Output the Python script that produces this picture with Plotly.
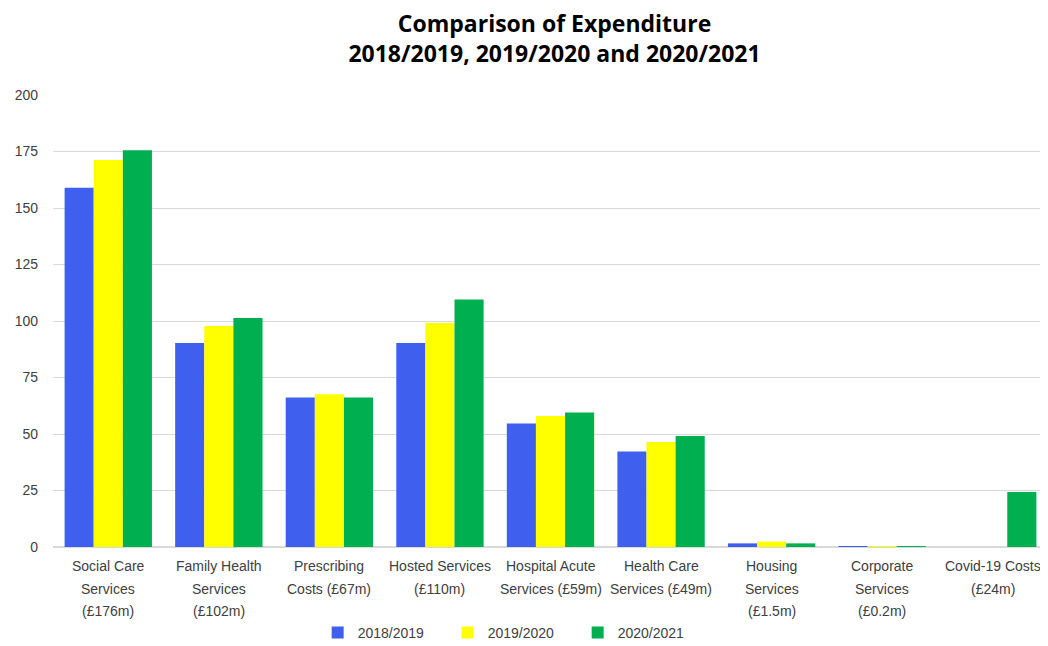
import plotly.graph_objects as go

categories = [
    "Social Care Services (£176m)",
    "Family Health Services (£102m)",
    "Prescribing Costs (£67m)",
    "Hosted Services (£110m)",
    "Hospital Acute Services (£59m)",
    "Health Care Services (£49m)",
    "Housing Services (£1.5m)",
    "Corporate Services (£0.2m)",
    "Covid-19 Costs (£24m)",
]
category_lines = [
    ["Social Care", "Services", "(£176m)"],
    ["Family Health", "Services", "(£102m)"],
    ["Prescribing", "Costs (£67m)"],
    ["Hosted Services", "(£110m)"],
    ["Hospital Acute", "Services (£59m)"],
    ["Health Care", "Services (£49m)"],
    ["Housing", "Services", "(£1.5m)"],
    ["Corporate", "Services", "(£0.2m)"],
    ["Covid-19 Costs", "(£24m)"],
]
series_names = ["2018/2019", "2019/2020", "2020/2021"]
values_2018 = [159, 90.3, 66.2, 90.3, 54.6, 42.3, 1.6, 0.2, 0]
values_2019 = [171.2, 97.8, 67.6, 99.1, 58.0, 46.5, 2.4, 0.2, 0]
values_2020 = [175.5, 101.3, 66.2, 109.5, 59.5, 49.1, 1.6, 0.2, 24.3]
colors = ["#3F60EF", "#FFFF00", "#00AF50"]
y_ticks = [0, 25, 50, 75, 100, 125, 150, 175, 200]

TEXT = "#404040"
FONT = "Liberation Sans, Arial, sans-serif"

fig = go.Figure()
for name, vals, col in zip(series_names, [values_2018, values_2019, values_2020], colors):
    fig.add_trace(go.Bar(name=name, x=categories, y=vals,
                         marker=dict(color=col, line=dict(width=0))))

annotations = []
for cat, lines in zip(categories, category_lines):
    for i, line in enumerate(lines):
        annotations.append(dict(
            x=cat, xref="x", y=0, yref="paper", yanchor="middle", xanchor="center",
            yshift=-(19 + 22.5 * i), text=line, showarrow=False,
            font=dict(family=FONT, size=14, color=TEXT),
        ))

fig.update_layout(
    width=1040, height=638,
    paper_bgcolor="white", plot_bgcolor="white",
    barmode="group", bargap=0.21, bargroupgap=0,
    margin=dict(l=45, r=0, t=87, b=99, autoexpand=False),
    title=dict(
        text="<b>Comparison of Expenditure<br>2018/2019, 2019/2020 and 2020/2021</b>",
        x=0.5255, xanchor="center", y=0.962, yanchor="top",
        font=dict(family="Open Sans, Liberation Sans, sans-serif", size=23, color="black"),
    ),
    font=dict(family=FONT, size=14, color=TEXT),
    legend=dict(orientation="h", x=0.266, xanchor="left", y=-0.19, yanchor="middle",
                font=dict(family=FONT, size=14, color=TEXT), entrywidth=85,
                entrywidthmode="pixels", itemwidth=30),
    annotations=annotations,
    showlegend=True,
)
fig.update_yaxes(range=[0, 200], tickvals=y_ticks, gridcolor="#D9D9D9", gridwidth=1,
                 zeroline=True, zerolinecolor="#D9D9D9", ticks="", ticklabelstandoff=14,
                 automargin=False, tickfont=dict(family=FONT, size=14, color=TEXT))
fig.update_xaxes(showticklabels=False, ticks="", showline=True, linecolor="#D9D9D9",
                 automargin=False)

fig.write_html("out.html")
